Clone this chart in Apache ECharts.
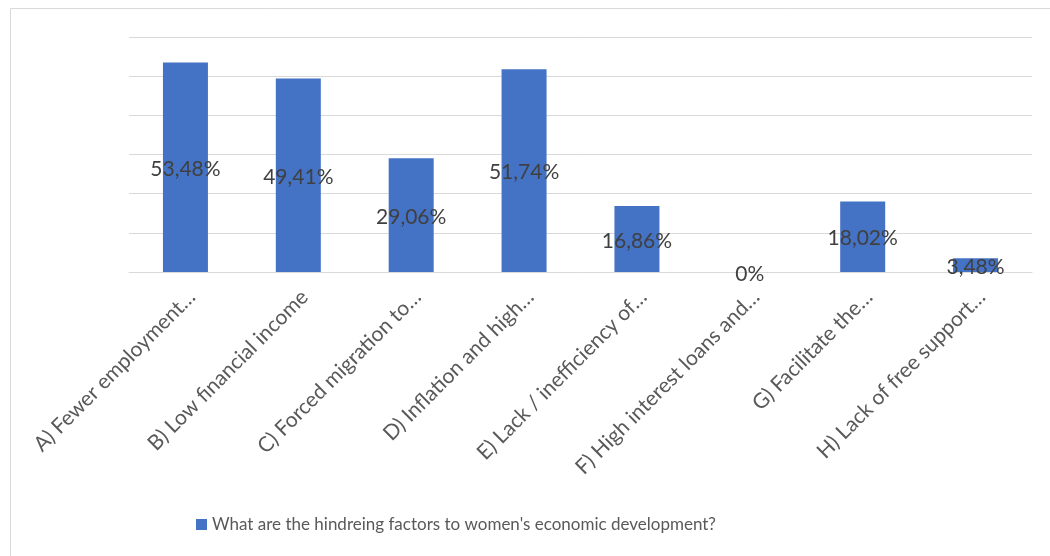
<!DOCTYPE html>
<html>
<head>
<meta charset="utf-8">
<style>
  html, body { margin: 0; padding: 0; background: #ffffff; }
  #chart { width: 1050px; height: 556px; }
</style>
<script src="https://cdn.jsdelivr.net/npm/echarts@6/dist/echarts.min.js"></script>
</head>
<body>
<div id="chart"></div>
<script>
// Survey answers: share of respondents naming each factor (%)
const categories = [
  'A) Fewer employment…',
  'B) Low financial income',
  'C) Forced migration to…',
  'D) Inflation and high…',
  'E) Lack / inefficiency of…',
  'F) High interest loans and…',
  'G) Facilitate the…',
  'H) Lack of free support…'
];
const values = [53.48, 49.41, 29.06, 51.74, 16.86, 0, 18.02, 3.48];
const seriesName = "What are the hindreing factors to women's economic development?";

const FONT = 'Lato, "Open Sans", sans-serif';

const chart = echarts.init(document.getElementById('chart'));
chart.setOption({
  backgroundColor: '#ffffff',
  animation: false,
  graphic: [{
    type: 'rect',
    shape: { x: 10.5, y: 8.5, width: 1100, height: 600 },
    style: { fill: 'none', stroke: '#d9d9d9', lineWidth: 1 },
    silent: true
  }],
  grid: { left: 129, right: 18, top: 37, bottom: 284, containLabel: false },
  legend: {
    data: [seriesName],
    left: 191,
    top: 511,
    icon: 'rect',
    itemWidth: 11,
    itemHeight: 11,
    itemGap: 4,
    textStyle: { color: '#595959', fontSize: 17, fontFamily: FONT }
  },
  xAxis: {
    type: 'category',
    data: categories,
    axisLine: { show: true, lineStyle: { color: '#d9d9d9', width: 1 } },
    axisTick: { show: false },
    axisLabel: {
      rotate: 45,
      interval: 0,
      margin: 28,
      padding: [0, -9, 0, 0],
      color: '#595959',
      fontSize: 21,
      fontFamily: FONT
    }
  },
  yAxis: {
    type: 'value',
    min: 0,
    max: 60,
    interval: 10,
    axisLabel: { show: false },
    axisLine: { show: false },
    axisTick: { show: false },
    splitLine: { lineStyle: { color: '#d9d9d9', width: 1 } }
  },
  series: [{
    name: seriesName,
    type: 'bar',
    data: values,
    barWidth: 45,
    itemStyle: { color: '#4472c4' },
    label: {
      show: true,
      position: 'inside',
      offset: [0, 2],
      color: '#404040',
      fontSize: 21,
      fontFamily: FONT,
      formatter: p => (p.value === 0 ? '0' : p.value.toFixed(2).replace('.', ',')) + '%'
    }
  }]
});
</script>
</body>
</html>
